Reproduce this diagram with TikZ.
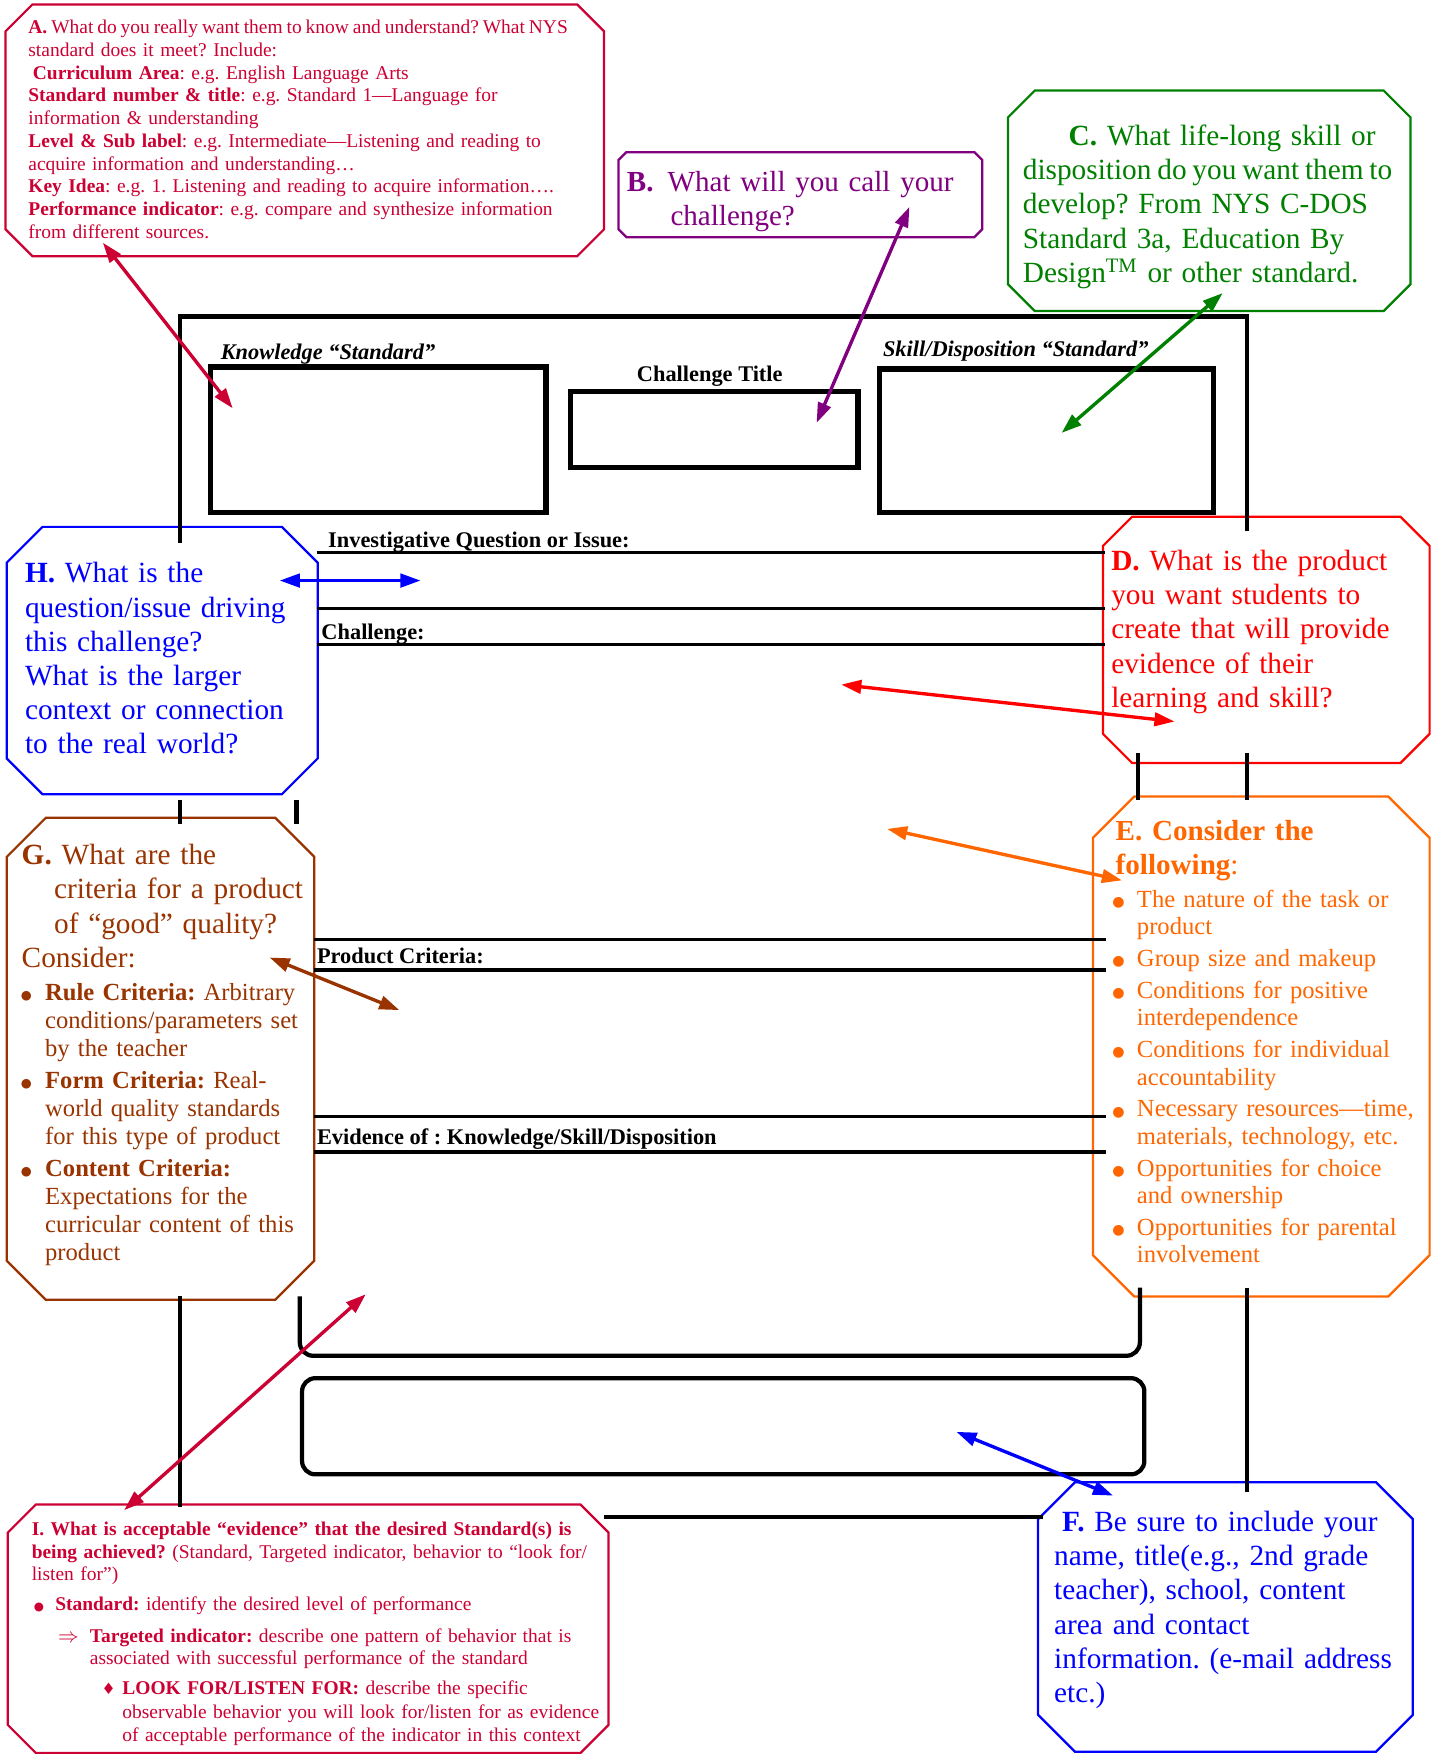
\documentclass[tikz,border=0pt]{standalone}
\usepackage{fontspec}
\setmainfont{Liberation Serif}
\newfontfamily\dejavu{DejaVu Sans}
\usetikzlibrary{arrows.meta}
\definecolor{cA}{HTML}{CC0033}
\definecolor{cB}{HTML}{800080}
\definecolor{cC}{HTML}{008000}
\definecolor{cD}{HTML}{FF0000}
\definecolor{cE}{HTML}{FF6600}
\definecolor{cF}{HTML}{0000FF}
\definecolor{cG}{HTML}{993300}
\newcommand\fsSmall{\fontsize{8.7}{10.17}\selectfont}
\newcommand\fsIhead{\fontsize{8.7}{10}\selectfont}
\newcommand\fsLook{\fontsize{8.7}{10.5}\selectfont}
\newcommand\fsBig{\fontsize{13.1}{15.3}\selectfont}
\newcommand\fsBigB{\fontsize{13}{15.5}\selectfont}
\newcommand\fsEl{\fontsize{11}{12.25}\selectfont}
\newcommand\fsGl{\fontsize{11}{12.6}\selectfont}
\newcommand\fsLab{\fontsize{10}{12}\selectfont}
\newcommand\myoct[6]{%
  \draw[octline,#6,fill=white] ({#1+#5},#2) -- ({#3-#5},#2) -- (#3,{#2+#5})
    -- (#3,{#4-#5}) -- ({#3-#5},#4) -- ({#1+#5},#4) -- (#1,{#4-#5})
    -- (#1,{#2+#5}) -- cycle;}
\newcommand\bigdot[1]{\raisebox{0.35pt}{\dejavu\fontsize{#1}{#1}\selectfont ●}}
\newcommand\mybul{\leavevmode\llap{\bigdot{6.3}\hspace{5.5pt}}}
\newcommand\mybulG{\leavevmode\llap{\bigdot{5.6}\hspace{6pt}}}
\begin{document}
\frenchspacing
\begin{tikzpicture}[x=0.5pt,y=-0.5pt,
  octline/.style={line width=1pt},
  frameline/.style={line width=1.9pt,black},
  fieldbox/.style={line width=2.4pt,black},
  fieldrule/.style={line width=1.6pt,black},
  roundbox/.style={line width=1.9pt,black,rounded corners=6pt},
  lab/.style={font=\fsLab\bfseries,anchor=base west,inner sep=0pt},
  txt/.style={anchor=base west,inner sep=0pt,align=left},
  dblarrow/.style={line width=1.5pt,{Triangle[length=9pt,width=6pt]}-{Triangle[length=9pt,width=6pt]}}
]
\fill[white] (0,0) rectangle (1286,1568);
\useasboundingbox (0,0) rectangle (1286,1568);

% ---------- top field boxes ----------
\draw[fieldbox] (188,328) rectangle (488,458);
\draw[fieldbox] (510,350) rectangle (767,418);
\draw[fieldbox] (786,330) rectangle (1085,458);
\node[lab,font=\fsLab\bfseries\itshape] (klab) at (197,321) {Knowledge “Standard”};
\node[lab] (ctlab) at (569,341) {Challenge Title};
\node[lab,font=\fsLab\bfseries\itshape] (slab) at (789,319) {Skill/Disposition “Standard”};

% ---------- callout boxes ----------
\myoct{5}{4}{540}{229}{24}{cA}
\myoct{553}{136}{878}{212}{7}{cB}
\myoct{901}{81}{1261}{278}{24}{cC}
\myoct{986}{462}{1278}{682}{26}{cD}
\myoct{977}{712}{1278}{1159}{37}{cE}
\myoct{928}{1325}{1263}{1566}{33}{cF}
\myoct{6}{731}{281}{1162}{35}{cG}
\myoct{6}{471}{284}{710}{32}{cF}
\myoct{7}{1345}{544}{1567}{25}{cA}

% ---------- frame pieces ----------
\draw[frameline] (161,485) -- (161,283) -- (1115,283) -- (1115,475);
\draw[frameline] (161,715) -- (161,737);
\draw[frameline] (1115,673) -- (1115,715);
\draw[frameline] (161,1159) -- (161,1347);
\draw[frameline] (1115,1151) -- (1115,1334);
\draw[frameline] (540,1356) -- (932,1356);
\draw[frameline] (265,715) -- (265,737);
\draw[frameline] (1017,673) -- (1017,715);
\draw[roundbox] (268,1159) -- (268,1212) -- (1019,1212) -- (1019,1151);
\draw[roundbox] (270,1232) rectangle (1023,1318);

% ---------- field rules ----------
\draw[fieldrule] (283,494) -- (988,494);
\draw[fieldrule] (283,544) -- (988,544);
\draw[fieldrule] (283,576) -- (988,576);
\draw[fieldrule] (281,840) -- (989,840);
\draw[fieldrule] (281,867) -- (989,867);
\draw[fieldrule] (281,998) -- (989,998);
\draw[fieldrule] (281,1030) -- (989,1030);
\node[lab] (invlab) at (293,489) {Investigative Question or Issue:};
\node[lab] (chlab) at (287,572) {Challenge:};
\node[lab] (pclab) at (283,861) {Product Criteria:};
\node[lab] (evlab) at (283,1023) {Evidence of : Knowledge/Skill/Disposition};

% ---------- callout texts ----------
\node[txt,font=\fsSmall,text=cA,text width=272pt] (atext) at (25,30)
 {{\spaceskip=1.75pt plus 0.5pt\textbf{A.} What do you really want them to know and understand? What NYS}\\
  standard does it meet? Include:\\
  \hspace*{2pt}\textbf{Curriculum Area}: e.g. English Language Arts\\
  \textbf{Standard number \& title}: e.g. Standard 1—Language for\\
  information \& understanding\\
  \textbf{Level \& Sub label}: e.g. Intermediate—Listening and reading to\\
  acquire information and understanding…\\
  \textbf{Key Idea}: e.g. 1. Listening and reading to acquire information….\\
  \textbf{Performance indicator}: e.g. compare and synthesize information\\
  from different sources.};

\node[txt,font=\fsBigB,text=cB,text width=158pt] (btext) at (560,171)
 {\textbf{B.}\hspace{6.3pt}What will you call your\\
  \hspace*{19.5pt}challenge?};

\node[txt,font=\fsBig,text=cC,text width=190pt] (ctext) at (914,130)
 {\hspace*{20.5pt}\textbf{C.} What life-long skill or\\
  {\spaceskip=2.6pt plus 0.5pt disposition do you want them to}\\
  develop? From NYS C-DOS\\
  Standard 3a, Education By\\
  Design\textsuperscript{TM} or other standard.};

\node[txt,font=\fsBig,text=cD,text width=150pt] (dtext) at (993,510)
 {\textbf{D.} What is the product\\
  you want students to\\
  create that will provide\\
  evidence of their\\
  learning and skill?};

\node[txt,font=\fsBigB,text=cE,text width=130pt] (etitle) at (997,751)
 {\textbf{E. Consider the}\\
  \textbf{following}:};
\node[txt,font=\fsEl,text=cE,text width=136pt] (elist) at (1016,811)
 {\mybul The nature of the task or\\
  product\\[2pt]
  \mybul Group size and makeup\\[2pt]
  \mybul Conditions for positive\\
  interdependence\\[2pt]
  \mybul Conditions for individual\\
  accountability\\[2pt]
  \mybul Necessary resources—time,\\
  materials, technology, etc.\\[2pt]
  \mybul Opportunities for choice\\
  and ownership\\[2pt]
  \mybul Opportunities for parental\\
  involvement};

\node[txt,font=\fsBig,text=cF,text width=170pt] (ftext) at (942,1369)
 {\hspace*{3.5pt}\textbf{F.} Be sure to include your\\
  name, title(e.g., 2nd grade\\
  teacher), school, content\\
  area and contact\\
  information. (e-mail address\\
  etc.)};

\node[txt,font=\fsBig,text=cG,text width=135pt] (gtitle) at (19,773)
 {\textbf{G.} What are the\\
  \hspace*{14.5pt}criteria for a product\\
  \hspace*{14.5pt}of “good” quality?\\
  Consider:};
\node[txt,font=\fsGl,text=cG,text width=126pt] (glist) at (40,894)
 {\mybulG\textbf{Rule Criteria:} Arbitrary\\
  conditions/parameters set\\
  by the teacher\\[1.6pt]
  \mybulG\textbf{Form Criteria:} Real-\\
  world quality standards\\
  for this type of product\\[1.6pt]
  \mybulG\textbf{Content Criteria:}\\
  Expectations for the\\
  curricular content of this\\
  product};

\node[txt,font=\fsBig,text=cF,text width=135pt] (htext) at (22,521)
 {\textbf{H.} What is the\\
  question/issue driving\\
  this challenge?\\
  What is the larger\\
  context or connection\\
  to the real world?};

\node[txt,font=\fsIhead,text=cA,text width=268pt] (ihead) at (28,1373)
 {\textbf{I. What is acceptable “evidence” that the desired Standard(s) is}\\
  \textbf{being achieved?} (Standard, Targeted indicator, behavior to “look for/\\
  listen for”)};
\node[txt,font=\fsIhead,text=cA,text width=225pt] (ibul) at (49,1440)
 {\llap{\bigdot{5.2}\hspace{5pt}}\textbf{Standard:} identify the desired level of performance};
\node[txt,font=\fsIhead,text=cA,text width=235pt] (iarr) at (80,1468)
 {\llap{$\Rightarrow$\hspace{5pt}}\textbf{Targeted indicator:} describe one pattern of behavior that is\\
  associated with successful performance of the standard};
\node[txt,font=\fsLook,text=cA,text width=230pt] (ilook) at (109,1515)
 {\llap{{\dejavu\fontsize{7}{8}\selectfont ♦}\hspace{3pt}}\textbf{LOOK FOR/LISTEN FOR:} describe the specific\\
  observable behavior you will look for/listen for as evidence\\
  of acceptable performance of the indicator in this context};

% ---------- arrows ----------
\coordinate (aA1) at (92,217);   \coordinate (aA2) at (208,365);
\coordinate (aB1) at (813,185);  \coordinate (aB2) at (730,378);
\coordinate (aC1) at (1093,262); \coordinate (aC2) at (949,387);
\coordinate (aH1) at (250,519);  \coordinate (aH2) at (376,519);
\coordinate (aD1) at (752,612);  \coordinate (aD2) at (1050,645);
\coordinate (aE1) at (793,741);  \coordinate (aE2) at (1003,787);
\coordinate (aG1) at (241,856);  \coordinate (aG2) at (357,903);
\coordinate (aI1) at (111,1350); \coordinate (aI2) at (327,1157);
\coordinate (aF1) at (855,1280); \coordinate (aF2) at (995,1337);
\draw[dblarrow,cA] (aA1) -- (aA2);
\draw[dblarrow,cB] (aB1) -- (aB2);
\draw[dblarrow,cC] (aC1) -- (aC2);
\draw[dblarrow,cF] (aH1) -- (aH2);
\draw[dblarrow,cD] (aD1) -- (aD2);
\draw[dblarrow,cE] (aE1) -- (aE2);
\draw[dblarrow,cG] (aG1) -- (aG2);
\draw[dblarrow,cA] (aI1) -- (aI2);
\draw[dblarrow,cF] (aF1) -- (aF2);
\end{tikzpicture}
\end{document}
